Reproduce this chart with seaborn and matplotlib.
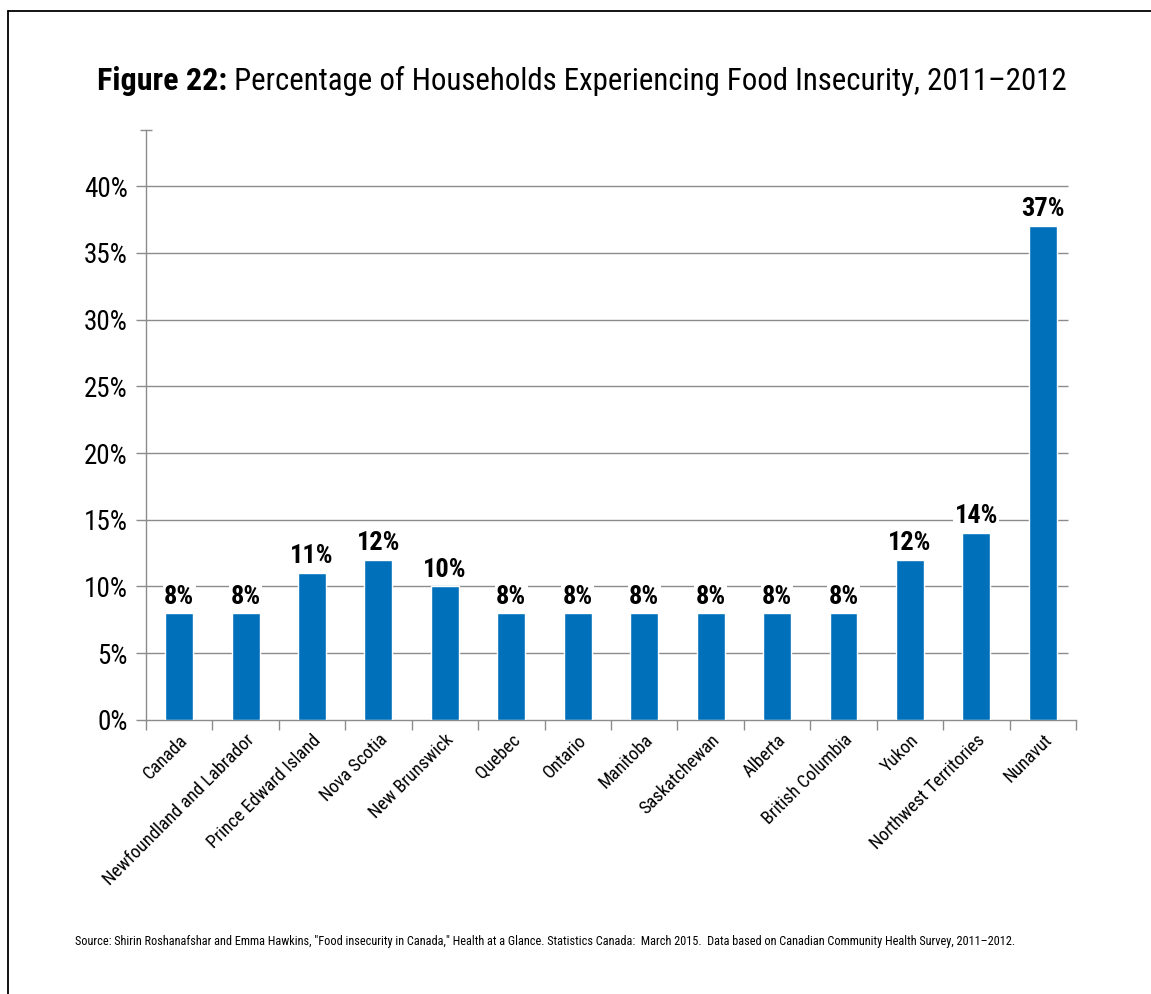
import matplotlib
matplotlib.use("Agg")
import matplotlib.pyplot as plt
from matplotlib import font_manager
from matplotlib.lines import Line2D
from matplotlib.ticker import FixedLocator
import seaborn as sns

# Data
regions = [
    "Canada", "Newfoundland and Labrador", "Prince Edward Island", "Nova Scotia",
    "New Brunswick", "Quebec", "Ontario", "Manitoba", "Saskatchewan", "Alberta",
    "British Columbia", "Yukon", "Northwest Territories", "Nunavut",
]
food_insecure_pct = [8, 8, 11, 12, 10, 8, 8, 8, 8, 8, 8, 12, 14, 37]
y_ticks = [0, 5, 10, 15, 20, 25, 30, 35, 40]

title_bold = "Figure 22:"
title_rest = " Percentage of Households Experiencing Food Insecurity, 2011\u20132012"
source_note = ('Source: Shirin Roshanafshar and Emma Hawkins, "Food insecurity in Canada," '
               'Health at a Glance. Statistics Canada:  March 2015.  Data based on Canadian '
               'Community Health Survey, 2011\u20132012.')

BAR_BLUE = "#0070BA"
GRID_GREY = "#8c8c8c"

sns.set_theme(style="white")
installed = {f.name for f in font_manager.fontManager.ttflist}
condensed = [n for n in ("Roboto Condensed", "Liberation Sans Narrow", "Open Sans Condensed",
                         "DejaVu Sans Condensed", "Arial Narrow") if n in installed]
base = condensed[0] if condensed else "Liberation Sans"
plt.rcParams["font.family"] = [base, "Liberation Sans", "DejaVu Sans"]

fig = plt.figure(figsize=(11.51, 9.94), dpi=100)
renderer = fig.canvas.get_renderer()


def fit_width(text, target_px, max_size):
    """Shrink a text's font size so its rendered width is about target_px."""
    w = text.get_window_extent(renderer=renderer).width
    size = text.get_fontsize() * target_px / w
    text.set_fontsize(min(size, max_size))
    return text


ax = fig.add_axes([0.1268, 0.2757, 0.808, 0.5935])

sns.barplot(x=regions, y=food_insecure_pct, color=BAR_BLUE, saturation=1,
            width=0.42, ax=ax, zorder=3)

ymax = 44.2
ax.set_xlim(-0.5, len(regions) - 0.5)
ax.set_ylim(0, ymax)

# Horizontal gridlines
ax.hlines([t for t in y_ticks if t > 0], -0.5, len(regions) - 0.62,
          color=GRID_GREY, lw=1.0, zorder=1)

ax.set_yticks(y_ticks)
ax.set_yticklabels([f"{t}%" for t in y_ticks], fontsize=20, color="black")
ax.tick_params(axis="y", which="major", left=True, length=7, width=1,
               color=GRID_GREY, pad=6)
ax.yaxis.set_minor_locator(FixedLocator([ymax]))
ax.tick_params(axis="y", which="minor", left=True, length=8, width=1,
               direction="inout", color=GRID_GREY)
fig.canvas.draw()
ysize = fit_width(ax.get_yticklabels()[-1], 44, 20).get_fontsize()
for lab in ax.get_yticklabels():
    lab.set_fontsize(max(ysize, 17))

ax.set_xticks(range(len(regions)))
ax.set_xticklabels(regions, rotation=45, ha="right", rotation_mode="anchor",
                   fontsize=13.5, color="black")
ax.tick_params(axis="x", which="major", bottom=False, length=0, pad=8)
ax.xaxis.set_minor_locator(FixedLocator([i - 0.5 for i in range(len(regions) + 1)]))
ax.tick_params(axis="x", which="minor", bottom=True, length=7, width=1,
               color=GRID_GREY)
# size x labels so the longest one spans roughly 205 px along its baseline
probe = fig.text(0, 0, regions[1], fontsize=13.5)
fit_width(probe, 205, 13.5)
xsize = max(probe.get_fontsize(), 12)
probe.remove()
for lab in ax.get_xticklabels():
    lab.set_fontsize(xsize)

for side in ("top", "right"):
    ax.spines[side].set_visible(False)
for side in ("left", "bottom"):
    ax.spines[side].set_color(GRID_GREY)
    ax.spines[side].set_linewidth(1.0)
ax.set_xlabel("")
ax.set_ylabel("")

# Value labels above bars
probe = fig.text(0, 0, "37%", fontsize=19, fontweight="bold")
fit_width(probe, 46, 19)
vsize = max(probe.get_fontsize(), 16)
probe.remove()
for i, v in enumerate(food_insecure_pct):
    ax.text(i, v + 0.35, f"{v}%", ha="center", va="bottom", fontsize=vsize,
            fontweight="bold", color="black", zorder=4,
            bbox=dict(boxstyle="square,pad=0.05", fc="white", ec="none"))

# Title in two weights, fitted to span 97..1070 px
title_y = 1 - 90 / 994
t1 = fig.text(97 / 1151, title_y, title_bold, fontsize=26, fontweight="bold",
              color="black", ha="left", va="baseline")
t2 = fig.text(0, title_y, title_rest, fontsize=25, color="black",
              ha="left", va="baseline")
w1 = t1.get_window_extent(renderer=renderer).width
w2 = t2.get_window_extent(renderer=renderer).width
scale = min(1.0, 973 / (w1 + w2))
t1.set_fontsize(26 * scale)
t2.set_fontsize(25 * scale)
bb = t1.get_window_extent(renderer=renderer)
t2.set_x(bb.x1 / fig.bbox.width)

src = fig.text(75 / 1151, 1 - 945 / 994, source_note, fontsize=10, color="black",
               ha="left", va="baseline")
fit_width(src, 935, 10)

# Page frame
fig.add_artist(Line2D([8 / 1151, 8 / 1151], [0, 1 - 11 / 994],
                      transform=fig.transFigure, color="black", lw=1.3))
fig.add_artist(Line2D([8 / 1151, 1], [1 - 11 / 994, 1 - 11 / 994],
                      transform=fig.transFigure, color="black", lw=1.3))

fig.savefig("out.png", dpi=100, facecolor="white")
